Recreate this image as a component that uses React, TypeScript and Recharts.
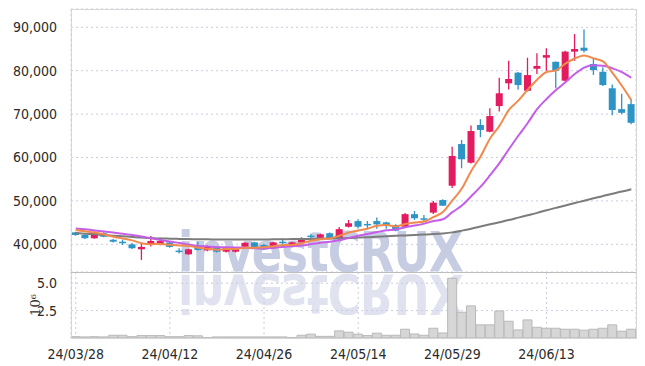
import React from 'react';
import { ComposedChart, BarChart, Bar, Line, XAxis, YAxis, CartesianGrid } from 'recharts';

const dates = [
  '24/03/28', '24/03/29', '24/04/01', '24/04/02', '24/04/03', '24/04/04', '24/04/05', '24/04/08', '24/04/09', '24/04/11',
  '24/04/12', '24/04/15', '24/04/16', '24/04/17', '24/04/18', '24/04/19', '24/04/22', '24/04/23', '24/04/24', '24/04/25',
  '24/04/26', '24/04/29', '24/04/30', '24/05/02', '24/05/03', '24/05/07', '24/05/08', '24/05/09', '24/05/10', '24/05/13',
  '24/05/14', '24/05/16', '24/05/17', '24/05/20', '24/05/21', '24/05/22', '24/05/23', '24/05/24', '24/05/27', '24/05/28',
  '24/05/29', '24/05/30', '24/05/31', '24/06/03', '24/06/04', '24/06/05', '24/06/07', '24/06/10', '24/06/11', '24/06/12',
  '24/06/13', '24/06/14', '24/06/17', '24/06/18', '24/06/19', '24/06/20', '24/06/21', '24/06/24', '24/06/25', '24/06/26',
];
const tickDates = ['24/03/28', '24/04/12', '24/04/26', '24/05/14', '24/05/29', '24/06/13'];

const opens = [
  42750, 42150, 41400, 42550, 41050, 40600, 40000, 38850, 39850, 40000,
  40450, 38550, 37700, 39700, 38600, 39300, 38300, 38300, 39450, 40450,
  39850, 39100, 40600, 39700, 40450, 42000, 41500, 42550, 41400, 44050,
  45350, 44700, 45350, 45050, 44450, 44050, 46950, 46000, 47300, 50200,
  53500, 63100, 58800, 67500, 65950, 71850, 77100, 79550, 75400, 80450,
  83000, 82050, 77700, 84400, 85300, 81550, 79750, 75950, 71150, 72300,
];
const highs = [
  42900, 42300, 43000, 42800, 41200, 41100, 40300, 40250, 41900, 41500,
  40700, 39100, 39000, 40600, 39700, 39500, 39200, 39000, 40500, 40600,
  40100, 40600, 41350, 40600, 41600, 42450, 42500, 42700, 44000, 45600,
  45750, 45400, 46200, 45200, 44600, 47200, 47650, 46750, 50000, 50400,
  62500, 64050, 67400, 68800, 71350, 78400, 82300, 79700, 83000, 84000,
  85150, 82100, 84600, 88450, 89500, 82800, 80800, 76800, 74700, 73400,
];
const lows = [
  42000, 41200, 41300, 41600, 40400, 39850, 38900, 36400, 39500, 39800,
  39200, 37900, 37600, 38600, 38400, 38100, 38100, 38100, 39300, 39200,
  38700, 39000, 40100, 39550, 40300, 41300, 41400, 41100, 41000, 43900,
  43650, 43700, 43600, 43600, 43000, 43900, 45600, 45200, 47000, 48800,
  53000, 57500, 58600, 64650, 65800, 70600, 75700, 75600, 75200, 79250,
  80000, 75950, 77500, 82300, 84200, 79000, 76500, 69750, 70000, 67650,
];
const closes = [
  42150, 41400, 42750, 41750, 40600, 40350, 39100, 39400, 40750, 40750,
  39400, 38400, 38850, 38700, 39550, 38300, 39100, 38850, 40350, 39350,
  38850, 40450, 40250, 40450, 41150, 41700, 42300, 41200, 43500, 44850,
  44050, 44400, 44600, 44400, 43150, 46950, 46000, 45750, 49600, 48900,
  60350, 59600, 66100, 66350, 69550, 74800, 78100, 76700, 79000, 81100,
  83600, 80000, 84400, 85000, 84600, 80150, 76700, 70950, 70300, 68000,
];
// moving averages
const ma5 = [
  43300, 43000, 42700, 42300, 41730, 41370, 40910, 40240, 40040, 40070,
  39880, 39740, 39630, 39220, 38980, 38760, 38900, 38900, 39230, 39190,
  39300, 39570, 39850, 39870, 40230, 40800, 41170, 41360, 41970, 42710,
  43180, 43600, 44280, 44460, 44120, 44700, 45020, 45250, 46290, 47440,
  50120, 52840, 56910, 60260, 64390, 67280, 70980, 73100, 75630, 77940,
  79700, 80080, 81620, 82820, 83520, 82830, 82170, 79480, 76540, 73220,
];
const ma10 = [
  43650, 43450, 43200, 42950, 42700, 42450, 42150, 41800, 41400, 41000,
  40625, 40325, 39935, 39630, 39525, 39320, 39320, 39265, 39225, 39085,
  39030, 39235, 39375, 39550, 39710, 40050, 40370, 40605, 40920, 41470,
  41990, 42385, 42820, 43215, 43415, 43940, 44310, 44765, 45375, 45780,
  47410, 48930, 51080, 53275, 55915, 58700, 61910, 65005, 67945, 71165,
  73490, 75530, 77360, 79225, 80730, 81265, 81125, 80550, 79680, 78370,
];
const ma60 = [
  42600, 42450, 42300, 42150, 42000, 41850, 41700, 41550, 41450, 41350,
  41300, 41250, 41200, 41150, 41150, 41100, 41100, 41100, 41100, 41100,
  41100, 41150, 41150, 41200, 41200, 41250, 41300, 41350, 41400, 41450,
  41550, 41650, 41750, 41850, 41950, 42050, 42150, 42250, 42350, 42500,
  42750, 43150, 43600, 44100, 44600, 45100, 45600, 46150, 46700, 47250,
  47850, 48400, 48950, 49500, 50050, 50600, 51150, 51650, 52150, 52700,
];
// volume, millions of shares
const volumes = [
  0.12, 0.1, 0.12, 0.1, 0.25, 0.25, 0.12, 0.22, 0.22, 0.22,
  0.12, 0.12, 0.22, 0.2, 0.05, 0.1, 0.1, 0.1, 0.1, 0.1,
  0.1, 0.1, 0.1, 0.05, 0.25, 0.35, 0.15, 0.15, 0.65, 0.53,
  0.35, 0.22, 0.44, 0.25, 0.25, 0.8, 0.37, 0.25, 0.89, 0.46,
  5.45, 2.35, 2.93, 1.2, 1.2, 2.47, 1.53, 0.74, 1.65, 0.98,
  0.89, 0.89, 0.8, 0.8, 0.71, 0.8, 0.89, 1.2, 0.62, 0.8,
];

const UP = '#e31b5f';
const DOWN = '#2d94c6';
const FONT = "'DejaVu Sans Condensed', 'DejaVu Sans', sans-serif";
const GRID = '#c9cbe0';

const data = dates.map((d, i) => ({
  date: d,
  o: opens[i],
  h: highs[i],
  l: lows[i],
  c: closes[i],
  range: [lows[i], highs[i]],
  ma5: ma5[i],
  ma10: ma10[i],
  ma60: ma60[i],
  vol: volumes[i],
}));

const Candle = (props: any) => {
  const { x, y, width, height, payload } = props;
  const { o, h, l, c } = payload;
  const color = c >= o ? UP : DOWN;
  const k = h > l ? height / (h - l) : 0;
  const yOf = (v: number) => y + (h - v) * k;
  const cx = x + width / 2;
  const top = yOf(Math.max(o, c));
  const bot = yOf(Math.min(o, c));
  return (
    <g>
      <line x1={cx} x2={cx} y1={y} y2={y + height} stroke={color} strokeWidth={1.3} />
      <rect x={cx - 3.5} y={top} width={7} height={Math.max(bot - top, 1.5)} fill={color} />
    </g>
  );
};

const tickStyle = { fill: '#2a2a2a', fontSize: 14, fontFamily: FONT };

const App: React.FC = () => {
  return (
    <div style={{ position: 'absolute', left: 0, top: 0, width: 645, height: 366, background: '#fff', fontFamily: FONT }}>
      {/* watermark, reflected below the panel separator */}
      <div
        style={{
          position: 'absolute',
          left: 178,
          top: 231,
          height: 42,
          fontSize: 56,
          fontWeight: 'bold',
          letterSpacing: -1,
          fontFamily: "'DejaVu Sans Condensed', sans-serif",
          lineHeight: '42px',
          whiteSpace: 'nowrap',
          color: '#c6cce2',
          transform: 'scaleX(0.89)',
          transformOrigin: 'left center',
          WebkitBoxReflect: 'below 0px linear-gradient(rgba(0,0,0,0.55), rgba(0,0,0,0.55))',
        } as React.CSSProperties}
      >
        investCRUX
      </div>

      <div style={{ position: 'absolute', left: 0, top: 0 }}>
        <ComposedChart width={645} height={272} data={data} margin={{ top: 9, right: 9, left: 0, bottom: 0 }}>
          <CartesianGrid stroke={GRID} strokeDasharray="2 3" />
          <XAxis dataKey="date" ticks={tickDates} height={0} tick={false} axisLine={false} tickLine={false} />
          <YAxis
            type="number"
            domain={[33620, 94220]}
            allowDataOverflow
            ticks={[40000, 50000, 60000, 70000, 80000, 90000]}
            tickFormatter={(v: number) => v.toLocaleString('en-US')}
            width={71}
            tick={tickStyle}
            tickLine={false}
            axisLine={false}
            tickMargin={8}
          />
          <Bar dataKey="range" barSize={7} isAnimationActive={false} shape={(p: any) => <Candle {...p} />} />
          <Line type="monotone" dataKey="ma60" stroke="#7c7c7c" strokeWidth={2} dot={false} isAnimationActive={false} />
          <Line type="monotone" dataKey="ma10" stroke="#c65de8" strokeWidth={2} dot={false} isAnimationActive={false} />
          <Line type="monotone" dataKey="ma5" stroke="#f08a4d" strokeWidth={2} dot={false} isAnimationActive={false} />
        </ComposedChart>
      </div>

      <div style={{ position: 'absolute', left: 0, top: 272 }}>
        <BarChart width={645} height={94} data={data} margin={{ top: 0, right: 9, left: 0, bottom: 0 }} barCategoryGap={0} barGap={0}>
          <CartesianGrid stroke={GRID} strokeDasharray="2 3" />
          <XAxis
            dataKey="date"
            ticks={tickDates}
            height={28}
            tick={tickStyle}
            tickLine={false}
            axisLine={{ stroke: '#c4c4c4' }}
            tickMargin={5}
          />
          <YAxis
            type="number"
            domain={[0, 6.02]}
            ticks={[2.5, 5]}
            tickFormatter={(v: number) => v.toFixed(1)}
            width={71}
            tick={tickStyle}
            tickLine={false}
            axisLine={false}
            tickMargin={8}
            label={{ value: '10⁶', angle: -90, position: 'insideLeft', offset: 35, style: { textAnchor: 'middle', fill: '#333', fontSize: 13, fontFamily: 'DejaVu Serif, serif' } }}
          />
          <Bar dataKey="vol" fill="#d6d6d6" stroke="#b9b9b9" strokeWidth={1} isAnimationActive={false} />
        </BarChart>
      </div>

      {/* plot frame and panel separator */}
      <div style={{ position: 'absolute', left: 71, top: 9, width: 564, height: 328, border: '1px solid #d6d6d6', pointerEvents: 'none' }} />
      <div style={{ position: 'absolute', left: 71, top: 272, width: 565, height: 1, background: '#bdbdbd', pointerEvents: 'none' }} />
    </div>
  );
};

export default App;
